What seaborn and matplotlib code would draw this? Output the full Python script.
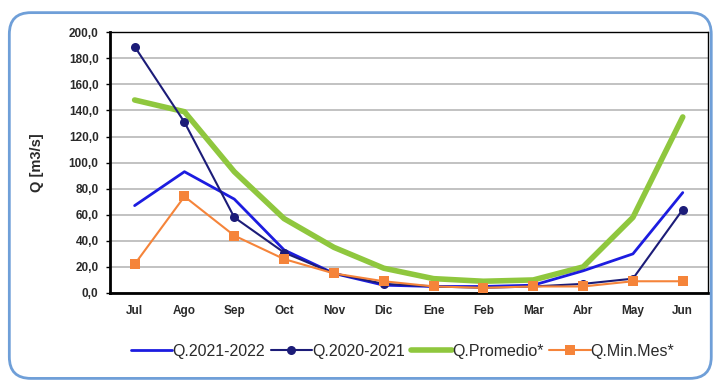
import matplotlib
matplotlib.use("Agg")
import matplotlib.pyplot as plt
import seaborn as sns
import pandas as pd
import numpy as np
from matplotlib.patches import FancyBboxPatch
from matplotlib.ticker import FuncFormatter, FixedLocator

months = ["Jul", "Ago", "Sep", "Oct", "Nov", "Dic", "Ene", "Feb", "Mar", "Abr", "May", "Jun"]
q_2021_2022 = [67, 93, 72, 33, 15, 6, 5, 5, 6, 17, 30, 77]
q_2020_2021 = [189, 131, 58, 31, 15, 7, 5, 4, 5, 7, 11, 64]
q_promedio = [148, 139, 93, 57, 35, 19, 11, 9, 10, 20, 58, 135]
q_min_mes = [22, 74, 44, 26, 15, 9, 5, 4, 5, 5, 9, 9]

series_names = ["Q.2021-2022", "Q.2020-2021", "Q.Promedio*", "Q.Min.Mes*"]
series_vals = [q_2021_2022, q_2020_2021, q_promedio, q_min_mes]

df = pd.DataFrame({
    "mes": months * 4,
    "x": list(range(12)) * 4,
    "Q": sum(series_vals, []),
    "serie": sum([[n] * 12 for n in series_names], []),
})

sns.set_theme(style="white")
plt.rcParams["font.family"] = ["Liberation Sans", "DejaVu Sans"]

fig = plt.figure(figsize=(7.17, 3.83), dpi=100)
ax = fig.add_axes([0.153, 0.235, 0.834, 0.681])

# outer rounded frame
frame = FancyBboxPatch((0.013, 0.012), 0.979, 0.955, boxstyle="round,pad=0,rounding_size=0.03",
                       transform=fig.transFigure, fill=False, edgecolor="#6f9fd8", linewidth=2.0,
                       mutation_aspect=717/383)
fig.patches.append(frame)

colors = {"Q.2021-2022": "#1c1ce0", "Q.2020-2021": "#1c1c78",
          "Q.Promedio*": "#8fc73e", "Q.Min.Mes*": "#f5843a"}
widths = {"Q.2021-2022": 2.0, "Q.2020-2021": 1.5, "Q.Promedio*": 4.0, "Q.Min.Mes*": 1.5}
markers = {"Q.2021-2022": "", "Q.2020-2021": "o", "Q.Promedio*": "", "Q.Min.Mes*": "s"}
zorders = {"Q.2021-2022": 3, "Q.2020-2021": 4, "Q.Promedio*": 2, "Q.Min.Mes*": 5}

for name in series_names:
    sub = df[df["serie"] == name]
    sns.lineplot(data=sub, x="x", y="Q", ax=ax, color=colors[name], linewidth=widths[name],
                 marker=markers[name] if markers[name] else None, markersize=6.5,
                 markeredgewidth=0, label=name, zorder=zorders[name])

ax.set_xlim(-0.5, 11.5)
ax.set_ylim(0, 200)
ax.set_yticks(np.arange(0, 201, 20))
ax.yaxis.set_major_formatter(FuncFormatter(lambda v, p: f"{v:.1f}".replace(".", ",")))
ax.set_xticks(range(12))
ax.set_xticklabels(months)
ax.xaxis.set_minor_locator(FixedLocator(np.arange(0.5, 11.0, 1.0)))
ax.tick_params(axis="x", which="major", length=0, pad=9, labelsize=8.5)
ax.tick_params(axis="x", which="minor", length=4, direction="in", width=1.2, color="black")
ax.tick_params(axis="y", which="major", length=3, direction="out", width=1, color="black",
               labelsize=8.5, left=True, pad=5)
for lab in ax.get_xticklabels() + ax.get_yticklabels():
    lab.set_fontweight("bold")
    lab.set_color("#2a2a2a")

ax.grid(axis="y", color="#b8b8b8", linewidth=1.2)
ax.set_axisbelow(True)
for side in ["top", "right"]:
    ax.spines[side].set_color("black")
    ax.spines[side].set_linewidth(1.0)
for side in ["left", "bottom"]:
    ax.spines[side].set_color("black")
    ax.spines[side].set_linewidth(2.0)

ax.set_xlabel("")
ax.set_ylabel("Q [m3/s]", fontsize=10.5, fontweight="bold", labelpad=18, color="#2a2a2a")

leg = ax.legend(loc="upper center", bbox_to_anchor=(0.49, -0.14), ncol=4, frameon=False,
                fontsize=11.5, handlelength=2.6, handletextpad=0.0, columnspacing=0.35)
for t in leg.get_texts():
    t.set_color("#2a2a2a")

fig.savefig("out.png", dpi=100)
